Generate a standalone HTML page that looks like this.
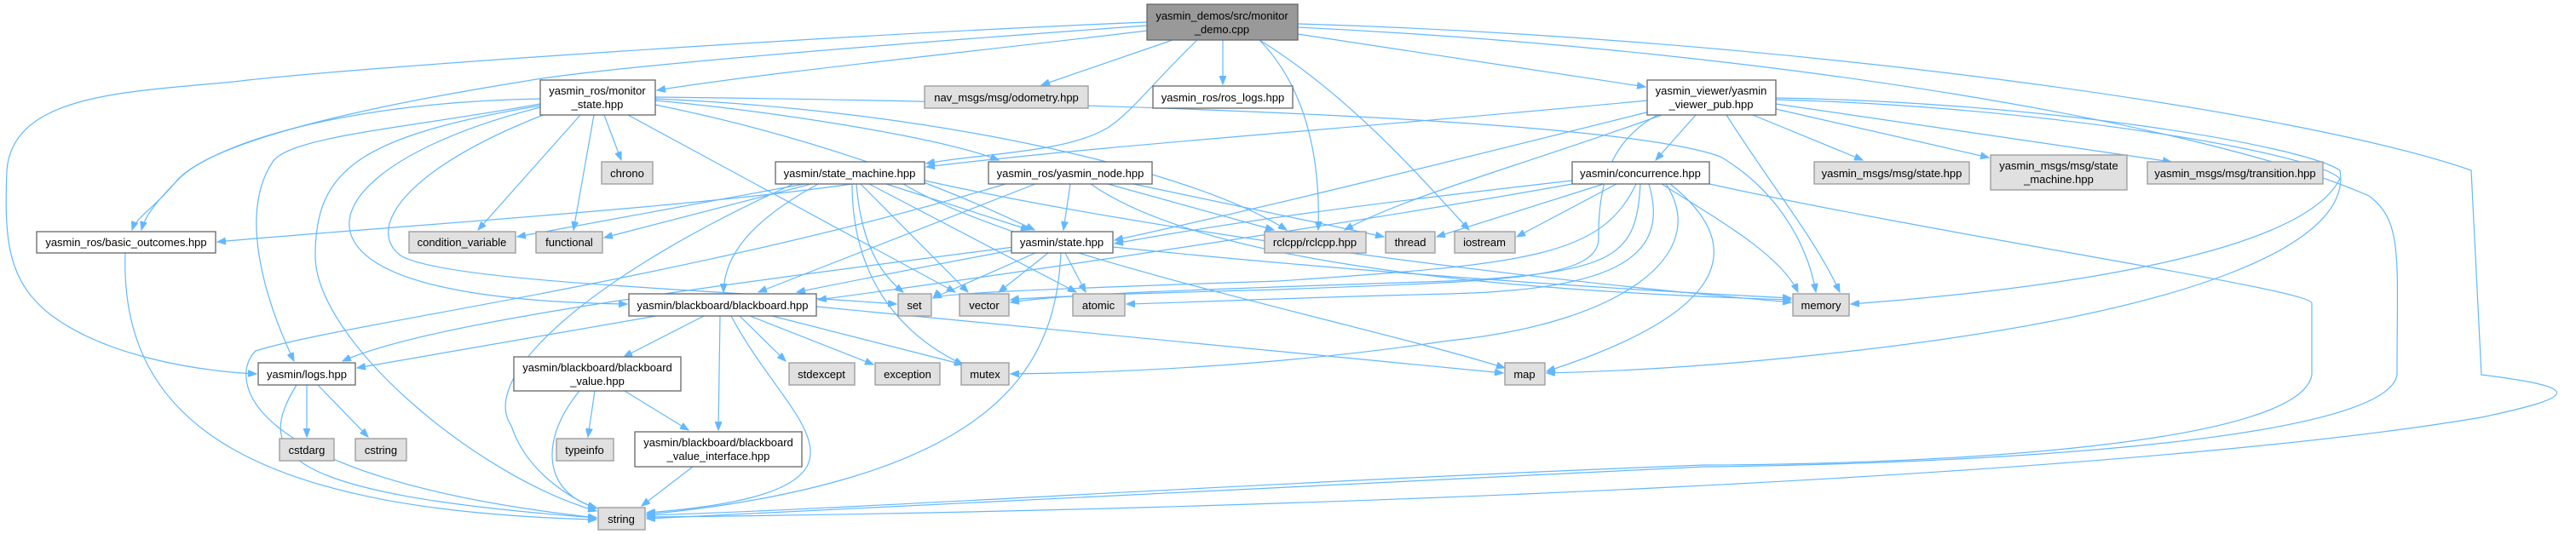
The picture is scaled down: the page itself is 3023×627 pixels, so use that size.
<!DOCTYPE html>
<html><head><meta charset="utf-8"><style>
html,body{margin:0;padding:0;background:#fff;}
svg{display:block;}
text{font-family:"Liberation Sans",Arial,sans-serif;font-size:13px;fill:#000;}
.w{fill:#fff;stroke:#666;stroke-width:1.3}
.g{fill:#e0e0e0;stroke:#999;stroke-width:1.3}
.r{fill:#999;stroke:#666;stroke-width:1.3}
.e path{fill:none;stroke:#63b8ff;stroke-width:1.2}
</style></head><body>
<svg width="3023" height="627" viewBox="0 0 3023 627" xmlns="http://www.w3.org/2000/svg">
<defs><marker id="a" markerUnits="userSpaceOnUse" markerWidth="11" markerHeight="8" refX="10" refY="4" orient="auto"><path d="M0,0 L10,4 L0,8 z" fill="#63b8ff" stroke="#63b8ff"/></marker></defs>
<g class="e" marker-end="url(#a)">
<!-- root -->
<path marker-end="url(#a)" d="M1346,36 C1150,60 900,85 771,106"/>
<path marker-end="url(#a)" d="M1346,30 C1000,55 700,80 612,96 C400,130 240,170 205,215 C180,245 160,255 155,270"/>
<path marker-end="url(#a)" d="M1346,26 C1000,40 400,80 274,96 C150,108 15,110 8,200 C5,280 8,330 60,370 C120,415 220,435 301,439"/>
<path marker-end="url(#a)" d="M1405,47 C1350,100 1330,130 1300,150 C1250,180 1150,180 1087,192"/>
<path marker-end="url(#a)" d="M1376,47 L1222,100"/>
<path marker-end="url(#a)" d="M1435,47 L1435,99"/>
<path marker-end="url(#a)" d="M1478,47 C1530,100 1550,180 1547,270"/>
<path marker-end="url(#a)" d="M1478,47 C1580,110 1660,200 1724,270"/>
<path marker-end="url(#a)" d="M1523,40 L1931,102"/>
<path marker-end="url(#a)" d="M1523,28 C2100,45 2700,130 2900,200 L2912,440 C3030,455 3030,465 2912,490 C2500,560 1500,600 759,607"/>
<path marker-end="url(#a)" d="M1523,32 C2100,60 2600,150 2780,230 C2820,260 2813,300 2813,440 C2800,520 2300,545 2000,548 C1500,570 1000,600 759,609"/>
<!-- viewer -->
<path marker-end="url(#a)" d="M1933,118 C1600,150 1300,170 1087,196"/>
<path marker-end="url(#a)" d="M1940,130 C1700,190 1500,240 1308,282"/>
<path marker-end="url(#a)" d="M1950,135 C1800,190 1650,230 1578,270"/>
<path marker-end="url(#a)" d="M1945,135 C1900,160 1875,200 1876,280 C1876,330 1750,330 1500,340 C1300,345 1200,350 1186,352"/>
<path marker-end="url(#a)" d="M1990,135 L1943,188"/>
<path marker-end="url(#a)" d="M2057,135 L2186,188"/>
<path marker-end="url(#a)" d="M2084,128 L2334,185"/>
<path marker-end="url(#a)" d="M2084,122 L2548,190"/>
<path marker-end="url(#a)" d="M2026,135 C2080,220 2130,280 2159,343"/>
<path marker-end="url(#a)" d="M2084,115 C2400,120 2700,170 2746,200 C2760,280 2600,370 2100,420 C1950,435 1850,437 1815,438"/>
<path marker-end="url(#a)" d="M2084,117 C2400,125 2720,180 2746,210 C2700,300 2400,340 2172,357"/>
<!-- concurrence -->
<path marker-end="url(#a)" d="M1845,212 C1600,240 1450,260 1308,286"/>
<path marker-end="url(#a)" d="M1882,216 L1686,278"/>
<path marker-end="url(#a)" d="M1897,216 L1780,278"/>
<path marker-end="url(#a)" d="M1920,216 C1880,300 1800,310 1500,330 C1200,340 1100,345 1095,350"/>
<path marker-end="url(#a)" d="M1925,216 C1920,300 1900,320 1700,330 C1400,340 1250,345 1186,355"/>
<path marker-end="url(#a)" d="M1935,216 C1960,300 1900,340 1700,345 C1500,350 1400,355 1322,357"/>
<path marker-end="url(#a)" d="M1950,216 C2020,260 2090,300 2110,343"/>
<path marker-end="url(#a)" d="M1955,216 C2010,300 1900,380 1700,400 C1500,430 1300,438 1186,439"/>
<path marker-end="url(#a)" d="M1960,216 C2040,280 2050,360 1815,436"/>
<path marker-end="url(#a)" d="M1845,216 C1600,260 1200,320 960,352"/>
<path marker-end="url(#a)" d="M2006,216 C2300,280 2713,340 2713,356 L2713,440 C2700,520 2300,545 2000,546 C1500,565 1000,598 759,605"/>
<!-- monitor_state -->
<path marker-end="url(#a)" d="M634,116 C400,120 250,170 210,210 C180,240 170,255 166,270"/>
<path marker-end="url(#a)" d="M634,122 C480,150 340,160 320,190 C280,250 310,350 345,424"/>
<path marker-end="url(#a)" d="M634,124 C420,160 370,200 370,300 C370,400 560,560 700,600"/>
<path marker-end="url(#a)" d="M634,126 C460,170 380,240 420,290 C460,340 600,355 736,357"/>
<path marker-end="url(#a)" d="M640,134 C470,200 430,270 470,300 C520,330 800,338 1052,357"/>
<path marker-end="url(#a)" d="M681,135 L561,270"/>
<path marker-end="url(#a)" d="M697,135 L673,270"/>
<path marker-end="url(#a)" d="M709,135 L729,188"/>
<path marker-end="url(#a)" d="M737,135 L1121,343"/>
<path marker-end="url(#a)" d="M769,118 C900,130 1100,160 1172,188"/>
<path marker-end="url(#a)" d="M769,123 C1000,170 1150,240 1214,270"/>
<path marker-end="url(#a)" d="M769,116 C1100,130 1400,200 1510,270"/>
<path marker-end="url(#a)" d="M769,114 C1300,120 1900,140 2019,184 C2080,220 2120,280 2131,343"/>
<!-- state_machine -->
<path marker-end="url(#a)" d="M1000,216 C800,245 400,270 255,284"/>
<path marker-end="url(#a)" d="M944,216 L607,278"/>
<path marker-end="url(#a)" d="M952,216 L709,279"/>
<path marker-end="url(#a)" d="M931,216 C700,320 560,440 600,500 C620,560 680,590 700,597"/>
<path marker-end="url(#a)" d="M960,216 C880,260 850,300 849,343"/>
<path marker-end="url(#a)" d="M1005,216 C1010,280 1030,320 1060,343"/>
<path marker-end="url(#a)" d="M1010,216 L1136,343"/>
<path marker-end="url(#a)" d="M1020,216 L1263,343"/>
<path marker-end="url(#a)" d="M1000,216 C1000,320 1050,390 1130,428"/>
<path marker-end="url(#a)" d="M1060,216 C1200,300 1600,380 1766,432"/>
<path marker-end="url(#a)" d="M1085,212 C1300,260 1700,320 2102,355"/>
<path marker-end="url(#a)" d="M1040,216 L1208,270"/>
<!-- yasmin_node -->
<path marker-end="url(#a)" d="M1256,216 L1248,270"/>
<path marker-end="url(#a)" d="M1300,216 L1495,270"/>
<path marker-end="url(#a)" d="M1330,216 L1624,278"/>
<path marker-end="url(#a)" d="M1280,216 C1400,300 1700,340 2102,352"/>
<path marker-end="url(#a)" d="M1215,216 C1050,280 950,320 890,343"/>
<path marker-end="url(#a)" d="M1180,216 C800,330 400,380 300,412 C270,440 270,560 700,608"/>
<!-- state.hpp -->
<path marker-end="url(#a)" d="M1190,290 C800,340 500,380 402,424"/>
<path marker-end="url(#a)" d="M1187,294 C1100,310 1000,330 935,343"/>
<path marker-end="url(#a)" d="M1215,297 L1095,350"/>
<path marker-end="url(#a)" d="M1230,297 L1172,343"/>
<path marker-end="url(#a)" d="M1250,297 L1274,343"/>
<path marker-end="url(#a)" d="M1306,290 C1600,320 1900,340 2102,350"/>
<path marker-end="url(#a)" d="M1245,297 C1240,400 1200,500 1000,560 C900,590 800,600 759,604"/>
<!-- blackboard -->
<path marker-end="url(#a)" d="M770,371 L419,432"/>
<path marker-end="url(#a)" d="M826,371 L732,419"/>
<path marker-end="url(#a)" d="M845,371 L843,505"/>
<path marker-end="url(#a)" d="M858,371 C900,450 960,500 950,540 C940,580 850,595 759,602"/>
<path marker-end="url(#a)" d="M868,371 L922,424"/>
<path marker-end="url(#a)" d="M880,371 L1025,428"/>
<path marker-end="url(#a)" d="M906,371 L1130,428"/>
<path marker-end="url(#a)" d="M958,360 L1764,438"/>
<!-- others -->
<path marker-end="url(#a)" d="M348,452 C300,530 320,580 700,608"/>
<path marker-end="url(#a)" d="M360,452 L360,513"/>
<path marker-end="url(#a)" d="M373,452 L432,513"/>
<path marker-end="url(#a)" d="M680,459 C630,520 640,580 700,596"/>
<path marker-end="url(#a)" d="M698,459 L690,513"/>
<path marker-end="url(#a)" d="M733,459 L808,505"/>
<path marker-end="url(#a)" d="M813,548 L753,594"/>
<path marker-end="url(#a)" d="M147,297 C140,500 300,600 700,610"/>
</g>
<g text-anchor="middle">
<rect class="r" x="1346" y="5" width="177" height="42"/><text x="1434" y="23">yasmin_demos/src/monitor</text><text x="1434" y="39">_demo.cpp</text>
<rect class="w" x="634" y="94" width="135" height="41"/><text x="701" y="111">yasmin_ros/monitor</text><text x="701" y="127">_state.hpp</text>
<rect class="g" x="1085" y="101" width="192" height="26"/><text x="1181" y="119">nav_msgs/msg/odometry.hpp</text>
<rect class="w" x="1353" y="101" width="164" height="26"/><text x="1435" y="119">yasmin_ros/ros_logs.hpp</text>
<rect class="w" x="1933" y="94" width="151" height="41"/><text x="2008" y="111">yasmin_viewer/yasmin</text><text x="2008" y="127">_viewer_pub.hpp</text>
<rect class="g" x="706" y="190" width="60" height="26"/><text x="736" y="208">chrono</text>
<rect class="w" x="910" y="190" width="175" height="26"/><text x="997" y="208">yasmin/state_machine.hpp</text>
<rect class="w" x="1160" y="190" width="192" height="26"/><text x="1256" y="208">yasmin_ros/yasmin_node.hpp</text>
<rect class="w" x="1845" y="190" width="161" height="26"/><text x="1925" y="208">yasmin/concurrence.hpp</text>
<rect class="g" x="2129" y="190" width="182" height="26"/><text x="2220" y="208">yasmin_msgs/msg/state.hpp</text>
<rect class="g" x="2336" y="182" width="160" height="41"/><text x="2416" y="199">yasmin_msgs/msg/state</text><text x="2416" y="215">_machine.hpp</text>
<rect class="g" x="2520" y="190" width="206" height="26"/><text x="2623" y="208">yasmin_msgs/msg/transition.hpp</text>
<rect class="w" x="43" y="272" width="210" height="25"/><text x="148" y="289">yasmin_ros/basic_outcomes.hpp</text>
<rect class="g" x="480" y="272" width="125" height="25"/><text x="542" y="289">condition_variable</text>
<rect class="g" x="629" y="272" width="78" height="25"/><text x="668" y="289">functional</text>
<rect class="w" x="1187" y="272" width="119" height="25"/><text x="1246" y="289">yasmin/state.hpp</text>
<rect class="g" x="1484" y="272" width="119" height="25"/><text x="1543" y="289">rclcpp/rclcpp.hpp</text>
<rect class="g" x="1626" y="272" width="58" height="25"/><text x="1655" y="289">thread</text>
<rect class="g" x="1707" y="272" width="71" height="25"/><text x="1742" y="289">iostream</text>
<rect class="w" x="738" y="345" width="220" height="26"/><text x="848" y="363">yasmin/blackboard/blackboard.hpp</text>
<rect class="g" x="1054" y="345" width="39" height="26"/><text x="1073" y="363">set</text>
<rect class="g" x="1126" y="345" width="58" height="26"/><text x="1155" y="363">vector</text>
<rect class="g" x="1259" y="345" width="61" height="26"/><text x="1289" y="363">atomic</text>
<rect class="g" x="2104" y="345" width="66" height="26"/><text x="2137" y="363">memory</text>
<rect class="w" x="303" y="426" width="114" height="26"/><text x="360" y="444">yasmin/logs.hpp</text>
<rect class="w" x="603" y="419" width="196" height="40"/><text x="701" y="436">yasmin/blackboard/blackboard</text><text x="701" y="452">_value.hpp</text>
<rect class="g" x="926" y="426" width="77" height="26"/><text x="964" y="444">stdexcept</text>
<rect class="g" x="1027" y="426" width="76" height="26"/><text x="1065" y="444">exception</text>
<rect class="g" x="1128" y="426" width="56" height="26"/><text x="1156" y="444">mutex</text>
<rect class="g" x="1766" y="426" width="47" height="26"/><text x="1789" y="444">map</text>
<rect class="g" x="328" y="515" width="64" height="26"/><text x="360" y="533">cstdarg</text>
<rect class="g" x="417" y="515" width="60" height="26"/><text x="447" y="533">cstring</text>
<rect class="g" x="653" y="515" width="67" height="26"/><text x="686" y="533">typeinfo</text>
<rect class="w" x="745" y="507" width="196" height="41"/><text x="843" y="524">yasmin/blackboard/blackboard</text><text x="843" y="540">_value_interface.hpp</text>
<rect class="g" x="702" y="596" width="55" height="26"/><text x="729" y="614">string</text>
</g>
</svg>
</body></html>
